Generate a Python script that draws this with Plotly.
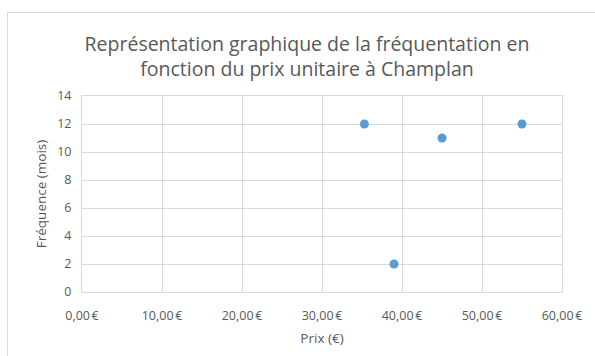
import plotly.graph_objects as go

# Prix unitaire (€) et fréquence de fréquentation (mois)
prix = [35.3, 45.0, 55.0, 39.0]
frequence = [12, 11, 12, 2]

x_ticks = [0, 10, 20, 30, 40, 50, 60]
x_tick_labels = ["0,00\u202f€", "10,00\u202f€", "20,00\u202f€", "30,00\u202f€",
                 "40,00\u202f€", "50,00\u202f€", "60,00\u202f€"]
y_ticks = [0, 2, 4, 6, 8, 10, 12, 14]

W, H = 595, 356
L, R, T, B = 82, 33, 96, 64
pw, ph = W - L - R, H - T - B

def px_to_paper_x(px):
    return (px - L) / pw

def px_to_paper_y(py):
    return (H - B - py) / ph

text_color = "#595959"
grid_color = "#d9d9d9"
font_family = "Open Sans, Noto Sans, DejaVu Sans, sans-serif"

fig = go.Figure()
fig.add_trace(go.Scatter(
    x=prix, y=frequence, mode="markers",
    marker=dict(color="#5b9bd5", size=9, line=dict(width=0)),
    hoverinfo="x+y", showlegend=False,
))

fig.update_layout(
    width=W, height=H,
    margin=dict(l=L, r=R, t=T, b=B),
    paper_bgcolor="white", plot_bgcolor="white",
    font=dict(family=font_family, color=text_color, size=12),
    title=dict(
        text="Représentation graphique de la fréquentation en<br>fonction du prix unitaire à Champlan",
        x=0.516, xanchor="center", y=1 - 51 / H, yanchor="middle",
        font=dict(size=19.5, color=text_color, family=font_family),
    ),
    xaxis=dict(
        range=[0, 60], tickvals=x_ticks, ticktext=x_tick_labels,
        showgrid=True, gridcolor=grid_color, gridwidth=1,
        showline=True, linecolor=grid_color, linewidth=1, mirror=True,
        zeroline=False, ticks="", tickfont=dict(size=12.5, color=text_color),
        ticklabelstandoff=12,
        title=dict(text="Prix (€)", font=dict(size=13.5, color=text_color), standoff=10),
    ),
    yaxis=dict(
        range=[0, 14], tickvals=y_ticks,
        showgrid=True, gridcolor=grid_color, gridwidth=1,
        showline=True, linecolor=grid_color, linewidth=1, mirror=True,
        zeroline=False, ticks="", tickfont=dict(size=12.5, color=text_color),
        ticklabelstandoff=7,
        title=dict(text="Fréquence (mois)", font=dict(size=13.5, color=text_color), standoff=7),
    ),
    shapes=[dict(
        type="rect", xref="paper", yref="paper", layer="below",
        x0=px_to_paper_x(7.5), x1=px_to_paper_x(620),
        y0=px_to_paper_y(400), y1=px_to_paper_y(12.5),
        line=dict(color="#d9d9d9", width=1), fillcolor="rgba(0,0,0,0)",
    )],
)

fig.write_html("out.html")
